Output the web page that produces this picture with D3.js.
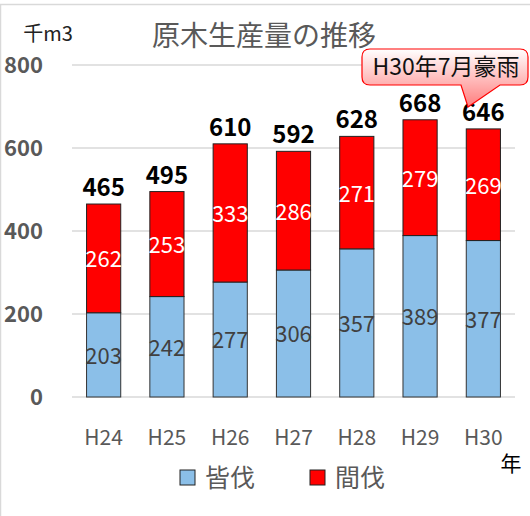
<!DOCTYPE html>
<html><head><meta charset="utf-8">
<script src="https://cdn.jsdelivr.net/npm/d3@7"></script>
<style>body{margin:0;background:#fff}svg{display:block}</style>
</head><body>
<svg id="c" width="530" height="516"></svg>
<script>
const categories = ["H24","H25","H26","H27","H28","H29","H30"];
const clearCut = [203,242,277,306,357,389,377];
const thinning = [262,253,333,286,271,279,269];
const totals = [465,495,610,592,628,668,646];
const yTicks = [0,200,400,600,800];
const seriesNames = ["皆伐","間伐"];
const colors = ["#8BBFE8","#FF0000"];

const svg = d3.select("#c");
const font = "'Noto Sans CJK JP','Noto Sans',sans-serif";
svg.append("rect").attr("x",0.5).attr("y",4.5).attr("width",540).attr("height",520)
  .attr("fill","#fff").attr("stroke","#d9d9d9").attr("stroke-width",1.5);

const x = d3.scaleBand().domain(categories).range([72,515]).paddingInner(0.46).paddingOuter(0.23);
const y = d3.scaleLinear().domain([0,800]).range([397,65]);

// gridlines
svg.append("g").selectAll("line").data(yTicks).join("line")
  .attr("x1",72).attr("x2",515).attr("y1",d=>y(d)).attr("y2",d=>y(d))
  .attr("stroke","#d9d9d9").attr("stroke-width",1.5);

// y labels
svg.append("g").selectAll("text").data(yTicks).join("text")
  .attr("x",43).attr("y",d=>y(d)).attr("dy","0.36em").attr("text-anchor","end")
  .attr("font-family",font).attr("font-weight","bold").attr("font-size",22).attr("fill","#595959")
  .text(d=>d);

const stacked = categories.map((c,i)=>({c, a:clearCut[i], b:thinning[i], t:totals[i]}));
const g = svg.append("g");
// blue
g.selectAll(".a").data(stacked).join("rect")
  .attr("x",d=>x(d.c)).attr("width",x.bandwidth())
  .attr("y",d=>y(d.a)).attr("height",d=>y(0)-y(d.a))
  .attr("fill",colors[0]).attr("stroke","#333").attr("stroke-width",1);
// red
g.selectAll(".b").data(stacked).join("rect")
  .attr("x",d=>x(d.c)).attr("width",x.bandwidth())
  .attr("y",d=>y(d.a+d.b)).attr("height",d=>y(d.a)-y(d.a+d.b))
  .attr("fill",colors[1]).attr("stroke","#222").attr("stroke-width",1);

// segment labels
g.selectAll(".la").data(stacked).join("text")
  .attr("x",d=>x(d.c)+x.bandwidth()/2).attr("y",d=>y(d.a/2)+1).attr("dy","0.36em")
  .attr("text-anchor","middle").attr("font-family",font).attr("font-size",22).attr("fill","#404040")
  .text(d=>d.a);
g.selectAll(".lb").data(stacked).join("text")
  .attr("x",d=>x(d.c)+x.bandwidth()/2).attr("y",d=>y(d.a+d.b/2)+1).attr("dy","0.36em")
  .attr("text-anchor","middle").attr("font-family",font).attr("font-size",22).attr("fill","#fff")
  .text(d=>d.b);
g.selectAll(".lt").data(stacked).join("text")
  .attr("x",d=>x(d.c)+x.bandwidth()/2).attr("y",d=>y(d.t)-8)
  .attr("text-anchor","middle").attr("font-family",font).attr("font-weight","bold").attr("font-size",24).attr("fill","#000")
  .text(d=>d.t);

// x labels
svg.append("g").selectAll("text").data(categories).join("text")
  .attr("x",d=>x(d)+x.bandwidth()/2).attr("y",445).attr("text-anchor","middle")
  .attr("font-family",font).attr("font-size",21).attr("fill","#595959").text(d=>d);
svg.append("text").attr("x",511).attr("y",471).attr("text-anchor","middle")
  .attr("font-family",font).attr("font-size",21).attr("fill","#000").text("年");

// title and unit
svg.append("text").attr("x",264).attr("y",46).attr("text-anchor","middle")
  .attr("font-family",font).attr("font-size",28).attr("fill","#595959").text("原木生産量の推移");
svg.append("text").attr("x",48).attr("y",41).attr("text-anchor","middle")
  .attr("font-family",font).attr("font-size",20).attr("fill","#222").text("千m3");

// legend
const lg = svg.append("g");
const lx = [180,310];
seriesNames.forEach((n,i)=>{
  lg.append("rect").attr("x",lx[i]).attr("y",470).attr("width",15).attr("height",15)
    .attr("fill",colors[i]).attr("stroke","#222").attr("stroke-width",1);
  lg.append("text").attr("x",lx[i]+25).attr("y",487).attr("font-family",font).attr("font-size",25)
    .attr("fill","#595959").text(n);
});

// callout
const defs = svg.append("defs");
const grad = defs.append("linearGradient").attr("id","cg").attr("x1",0).attr("y1",0).attr("x2",0).attr("y2",1);
grad.append("stop").attr("offset","0%").attr("stop-color","#ffffff");
grad.append("stop").attr("offset","100%").attr("stop-color","#ff7d7d");
const cx0=362, cx1=528, cy0=49, cy1=85, r=8, tx=468, ty=107, tb0=461, tb1=500;
const p = `M${cx0+r},${cy0} H${cx1-r} Q${cx1},${cy0} ${cx1},${cy0+r} V${cy1-r} Q${cx1},${cy1} ${cx1-r},${cy1} H${tb1} L${tx},${ty} L${tb0},${cy1} H${cx0+r} Q${cx0},${cy1} ${cx0},${cy1-r} V${cy0+r} Q${cx0},${cy0} ${cx0+r},${cy0} Z`;
svg.append("path").attr("d",p).attr("fill","url(#cg)").attr("stroke","#ff0000").attr("stroke-width",1.2);
svg.append("text").attr("x",446).attr("y",75).attr("text-anchor","middle")
  .attr("font-family",font).attr("font-size",23).attr("fill","#111").text("H30年7月豪雨");
</script>
</body></html>
